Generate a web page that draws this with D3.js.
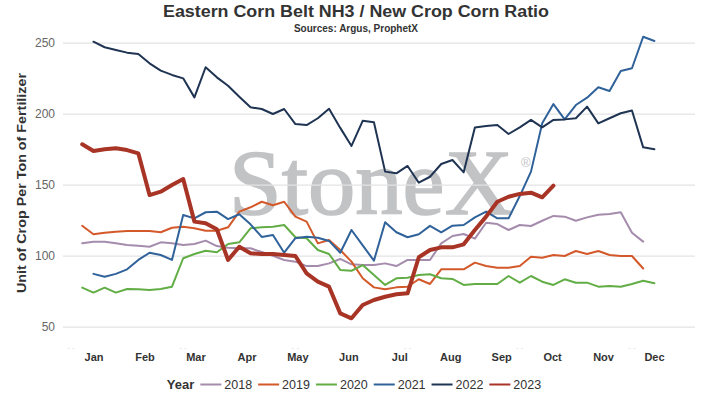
<!DOCTYPE html>
<html lang="en">
<head>
<meta charset="UTF-8">
<title>Eastern Corn Belt NH3 / New Crop Corn Ratio</title>
<style>
    body { margin: 0; background: #fff; }
    svg { display: block; }
</style>
</head>
<body>
<svg id="chart" width="716" height="407"></svg>
<script src="https://d3js.org/d3.v7.min.js"></script>
<script>
    /* global d3 */

    // weekly ratio values, first value sits at the given week number
    const years = ["2018", "2019", "2020", "2021", "2022", "2023"];
    const colors = ["#a58cad", "#d4592a", "#62ad45", "#30629a", "#1f3452", "#a83426"];
    const startWeek = [2, 2, 2, 3, 3, 2];

    const v2018 = [108.7, 109.9, 109.9, 108.7, 107.5, 107, 106.3, 109.4, 108.7, 107.5, 108.2, 110.6, 106.8,
        105.6, 105.2, 105.2, 102.6, 100, 97, 95.8, 92.7, 92.7, 94.6, 97.7, 93.9, 93.4, 93.4, 94.6, 92.7,
        97, 97, 97, 108.7, 113.9, 115.3, 112, 123.2, 122.3, 118.1, 121.6, 120.9, 124.6, 128, 127.5, 124.6,
        127, 128.9, 129.4, 130.6, 116.2, 109.9];
    const v2019 = [121.1, 115.1, 116.2, 116.9, 117.4, 117.4, 117.4, 116.5, 119.7, 120.4, 119.3, 117.6, 117.6,
        120, 131, 134.1, 138, 135.5, 138, 127.5, 124, 108.7, 111, 104, 95.8, 84.1, 77.7, 76.3, 77.7, 78.2,
        83.4, 80.1, 90.4, 90.4, 90.4, 95.1, 92.7, 91.5, 91.5, 92.7, 99.3, 98.6, 100.5, 99.8, 103.3, 101.2,
        103.3, 100.5, 99.8, 99.8, 91];
    const v2020 = [77.5, 74, 77.5, 74, 76.6, 76.3, 75.8, 76.6, 78.2, 98.2, 101.2, 103.5, 102.4, 108.2, 109.4,
        119.3, 120, 120.4, 121.6, 113, 112.3, 104, 101.2, 90, 89.4, 93.4, 86.4, 79.4, 84.1, 84.5, 86.4, 86.9,
        84.1, 83.6, 79.4, 80.1, 80.1, 80.1, 85.7, 81, 85.7, 81.7, 79.4, 83.4, 81, 81, 78.2, 78.7, 78.2, 80.1,
        82.4, 80.6];
    const v2021 = [87.2, 85.2, 87.2, 90.4, 97, 102.1, 100.5, 97, 128.7, 126.3, 130.6, 131, 125.8, 129.2, 122.1,
        113.2, 114.6, 102.1, 112.3, 113.4, 112.7, 110.4, 102.1, 118.1, 107.3, 96.5, 123.5, 116.5, 113, 115.1,
        121, 116.5, 121.1, 121.6, 127, 131, 126.3, 126.3, 142, 159.2, 193.2, 206.8, 196, 206.1, 211.3, 218.6,
        216, 230.1, 232, 254.2, 251.2];
    const v2022 = [250.7, 246.8, 244.9, 243, 242, 235.5, 230.3, 227.3, 224.9, 211.5, 232.7, 225.6, 219.7, 212,
        204.5, 203.3, 199.8, 203.3, 192.7, 192, 196.8, 203.5, 190, 177.3, 195, 194, 159.2, 158, 163.2, 151.4,
        155.6, 164.6, 167.4, 158.7, 190.3, 191.3, 192, 185.7, 190.4, 195.6, 190.4, 195.6, 196, 196.8, 205,
        193.2, 196.8, 200.3, 202.2, 176.3, 175];
    const v2023 = [178.5, 173.7, 174.9, 175.6, 174.4, 172.1, 142.7, 145.1, 149.8, 154, 124, 122.8, 118.6, 97,
        106.3, 101.7, 101.2, 101.2, 100.5, 99.8, 87.6, 81.7, 78.2, 59.4, 55.9, 65.3, 68.8, 71.1, 72.8, 73.5,
        98.9, 104, 105.9, 105.9, 108, 118.1, 127.5, 138, 141.5, 143.5, 144.4, 141.1, 149.3];

    const months = ["Jan", "Feb", "Mar", "Apr", "May", "Jun", "Jul", "Aug", "Sep", "Oct", "Nov", "Dec"];
    const yTicks = [50, 100, 150, 200, 250];
    const weekTicks = [1, 11, 21, 31, 41, 51];

    const values = [v2018, v2019, v2020, v2021, v2022, v2023];
    const series = years.map(function (y, i) {
        return {
            year: y,
            color: colors[i],
            points: values[i].map(function (v, j) {
                return {week: startWeek[i] + j, value: v};
            })
        };
    });

    let svg = d3.select("#chart"),
        left = 63,
        right = 695,
        font = "'Liberation Sans', Arial, sans-serif";

    let x = d3.scaleLinear().domain([1, 53]).range([71, 654.4]),
        xMonth = d3.scalePoint().domain(months).range([93.6, 654]),
        y = d3.scaleLinear().domain([50, 250]).range([326.7, 42.7]);

    // title
    svg.append("text")
        .attr("x", 356).attr("y", 17)
        .attr("text-anchor", "middle")
        .attr("font-family", font).attr("font-weight", "bold")
        .attr("font-size", 16).attr("fill", "#333")
        .attr("textLength", 386).attr("lengthAdjust", "spacingAndGlyphs")
        .text("Eastern Corn Belt NH3 / New Crop Corn Ratio");

    svg.append("text")
        .attr("x", 356).attr("y", 32)
        .attr("text-anchor", "middle")
        .attr("font-family", font).attr("font-weight", "bold")
        .attr("font-size", 10).attr("fill", "#333")
        .text("Sources: Argus, ProphetX");

    // watermark
    svg.append("text")
        .attr("x", 229).attr("y", 214)
        .attr("font-family", "'Liberation Serif', 'Times New Roman', serif")
        .attr("font-size", 93).attr("fill", "#c2c3c5")
        .attr("stroke", "#c2c3c5").attr("stroke-width", 1.6)
        .attr("textLength", 284).attr("lengthAdjust", "spacingAndGlyphs")
        .text("StoneX");
    svg.append("text")
        .attr("x", 521).attr("y", 167)
        .attr("font-family", font)
        .attr("font-size", 13).attr("fill", "#c2c3c5")
        .text("®");

    // y grid + labels
    let yAxis = d3.axisLeft(y).tickValues(yTicks).tickSize(-(right - left)).tickPadding(8);
    let gy = svg.append("g")
        .attr("transform", "translate(" + left + ",0)")
        .call(yAxis);
    gy.select(".domain").remove();
    gy.selectAll(".tick line").attr("stroke", "#e3e3e3").attr("stroke-width", 1.2);
    gy.selectAll(".tick text")
        .attr("font-family", font).attr("font-size", 12).attr("fill", "#666");

    svg.append("text")
        .attr("transform", "translate(26,183) rotate(-90)")
        .attr("text-anchor", "middle")
        .attr("font-family", font).attr("font-weight", "bold")
        .attr("font-size", 13).attr("fill", "#333")
        .attr("textLength", 220).attr("lengthAdjust", "spacingAndGlyphs")
        .text("Unit of Crop Per Ton of Fertilizer");

    // faint week axis (labels mostly hidden)
    svg.append("g").selectAll("text")
        .data(weekTicks)
        .join("text")
        .attr("x", function (d) { return x(d); })
        .attr("y", 350)
        .attr("text-anchor", "middle")
        .attr("font-family", font).attr("font-size", 8).attr("fill", "#d8d8d8")
        .text("- -");

    // month axis
    let xAxis = d3.axisBottom(xMonth).tickSize(0).tickPadding(0);
    let gx = svg.append("g")
        .attr("transform", "translate(0,353)")
        .call(xAxis);
    gx.select(".domain").remove();
    gx.selectAll(".tick text")
        .attr("font-family", font).attr("font-weight", "bold")
        .attr("font-size", 11).attr("fill", "#333");

    // lines
    let line = d3.line()
        .x(function (d) { return x(d.week); })
        .y(function (d) { return y(d.value); });

    svg.append("g")
        .selectAll("path")
        .data(series)
        .join("path")
        .attr("fill", "none")
        .attr("stroke", function (d) { return d.color; })
        .attr("stroke-width", function (d) { return d.year === "2023" ? 4 : 2; })
        .attr("stroke-linejoin", "round")
        .attr("stroke-linecap", "round")
        .attr("d", function (d) { return line(d.points); });

    // legend
    let legend = svg.append("g").attr("transform", "translate(0,389)");
    let title = legend.append("text")
        .attr("x", 0).attr("y", 0)
        .attr("font-family", font).attr("font-weight", "bold")
        .attr("font-size", 13).attr("fill", "#333")
        .text("Year");
    let cx = title.node().getComputedTextLength() + 6;
    series.forEach(function (s) {
        legend.append("line")
            .attr("x1", cx).attr("x2", cx + 21)
            .attr("y1", -4.5).attr("y2", -4.5)
            .attr("stroke", s.color).attr("stroke-width", 2);
        let t = legend.append("text")
            .attr("x", cx + 24).attr("y", 0)
            .attr("font-family", font)
            .attr("font-size", 12.5).attr("fill", "#333")
            .text(s.year);
        cx += 24 + t.node().getComputedTextLength() + 6;
    });
    let lw = cx - 6;
    legend.attr("transform", "translate(" + (354 - lw / 2) + ",389)");
</script>
</body>
</html>
